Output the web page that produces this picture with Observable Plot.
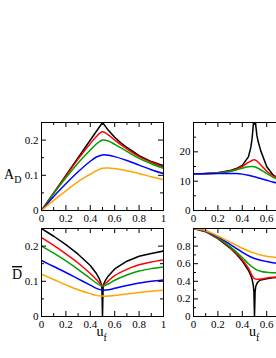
<!DOCTYPE html>
<html><head><meta charset="utf-8">
<script src="https://cdn.jsdelivr.net/npm/d3@7"></script>
<script src="https://cdn.jsdelivr.net/npm/@observablehq/plot@0.6"></script>
<style>
html,body{margin:0;padding:0;background:#fff;overflow:hidden}
#wrap{position:relative;width:276px;height:358px;overflow:hidden;background:#fff}
#wrap > svg{position:absolute}
#wrap svg, #wrap svg text{font-family:"Liberation Serif","Times New Roman",Times,"DejaVu Serif",serif !important}
</style></head><body><div id="wrap"></div>
<script>
// ---- tick values ----
const xMajor = [0, 0.2, 0.4, 0.6, 0.8, 1];
const xMinor = [0.1, 0.3, 0.5, 0.7, 0.9];
const xLabelsRight = [0, 0.2, 0.4, 0.6];
const adYMajor = [0, 0.1, 0.2];
const adYMinor = [0.05, 0.15];
const dYMajor = [0, 0.1, 0.2];
const dYMinor = [0.05, 0.15];
const trYMajor = [0, 10, 20];
const trYMinor = [5, 15, 25];
const brYMajor = [0, 0.2, 0.4, 0.6, 0.8];
const brYMinor = [0.1, 0.3, 0.5, 0.7, 0.9];

// ---- left panels: u grid ----
const uLeft = [0, 0.1, 0.2, 0.3, 0.4, 0.45, 0.5, 0.55, 0.6, 0.7, 0.8, 0.9, 1];

// A_D (top-left)
const adBlackU = [0, 0.5, 0.55, 0.6, 0.65, 0.7, 0.8, 0.9, 1];
const adBlack  = [0, 0.25, 0.227, 0.208, 0.192, 0.179, 0.156, 0.139, 0.127];
const adRed    = [0, 0.050, 0.098, 0.146, 0.190, 0.210, 0.224, 0.214, 0.200, 0.175, 0.153, 0.137, 0.124];
const adGreen  = [0, 0.048, 0.093, 0.135, 0.172, 0.189, 0.200, 0.197, 0.188, 0.168, 0.148, 0.133, 0.120];
const adBlue   = [0, 0.040, 0.076, 0.110, 0.140, 0.152, 0.158, 0.157, 0.153, 0.142, 0.129, 0.116, 0.105];
const adOrange = [0, 0.029, 0.056, 0.082, 0.103, 0.113, 0.120, 0.121, 0.119, 0.113, 0.105, 0.096, 0.088];

// D-bar (bottom-left)
const dBlackU = [0, 0.1, 0.2, 0.3, 0.4, 0.45, 0.47, 0.48, 0.49, 0.495, 0.5, 0.505, 0.51, 0.52, 0.53, 0.55, 0.6, 0.7, 0.8, 0.9, 1];
const dBlack  = [0.25, 0.228, 0.204, 0.177, 0.145, 0.122, 0.110, 0.102, 0.092, 0.084, 0, 0.084, 0.092, 0.100, 0.106, 0.116, 0.135, 0.157, 0.171, 0.179, 0.186];
const dRed    = [0.224, 0.202, 0.178, 0.152, 0.122, 0.105, 0.089, 0.102, 0.116, 0.134, 0.147, 0.155, 0.161];
const dGreen  = [0.200, 0.180, 0.158, 0.134, 0.108, 0.095, 0.086, 0.093, 0.103, 0.118, 0.129, 0.136, 0.141];
const dBlue   = [0.159, 0.142, 0.125, 0.107, 0.089, 0.080, 0.075, 0.076, 0.080, 0.088, 0.095, 0.100, 0.104];
const dOrange = [0.120, 0.105, 0.090, 0.076, 0.065, 0.060, 0.058, 0.058, 0.060, 0.064, 0.068, 0.072, 0.075];

// ---- right panels (visible part) ----
const uRight = [0, 0.1, 0.2, 0.3, 0.35, 0.4, 0.45, 0.5, 0.55, 0.6, 0.65, 0.7];
const uRightBlack = [0, 0.1, 0.2, 0.3, 0.35, 0.4, 0.45, 0.47, 0.48, 0.49, 0.495, 0.5, 0.505, 0.51, 0.52, 0.53, 0.55, 0.6, 0.65, 0.7];

// top-right
const trBlack = [12.5, 12.6, 12.9, 13.6, 14.3, 15.4, 18.3, 21.5, 24.5, 29, 35, NaN, 35, 29, 25.5, 23.5, 20.5, 15.0, 12.2, 10.8];
const trRed   = [12.5, 12.6, 12.9, 13.5, 14.1, 15.0, 16.4, 17.3, 15.6, 13.4, 11.9, 10.8];
const trGreen = [12.5, 12.6, 12.8, 13.3, 13.8, 14.4, 14.9, 14.9, 13.9, 12.6, 11.4, 10.4];
const trBlue  = [12.5, 12.5, 12.6, 12.6, 12.6, 12.4, 12.0, 11.5, 10.9, 10.3, 9.7, 9.2];

// bottom-right
const brBlack  = [1.0, 0.964, 0.884, 0.778, 0.71, 0.63, 0.525, 0.465, 0.425, 0.355, 0.28, 0, 0.28, 0.34, 0.375, 0.395, 0.415, 0.43, 0.44, 0.447];
const brRed    = [1.0, 0.966, 0.888, 0.785, 0.72, 0.645, 0.55, 0.43, 0.425, 0.437, 0.445, 0.45];
const brGreen  = [1.0, 0.968, 0.893, 0.795, 0.735, 0.67, 0.60, 0.545, 0.515, 0.502, 0.498, 0.497];
const brBlue   = [1.0, 0.972, 0.905, 0.82, 0.775, 0.73, 0.69, 0.66, 0.64, 0.625, 0.612, 0.603];
const brOrange = [1.0, 0.975, 0.915, 0.845, 0.81, 0.775, 0.745, 0.72, 0.70, 0.685, 0.675, 0.668];

const colors = {black: "#000000", red: "#ff0000", green: "#00a000", blue: "#0000ff", orange: "#ffa500"};
const FONT = "Liberation Serif, Times New Roman, Times, DejaVu Serif, serif";

const FW = 122, FH = 88, ML = 30, MR = 2, MT = 2, MB = 20;

function pts(us, vs) { return us.map((u, i) => ({u, v: vs[i]})); }

function panel({left, top, yDomain, yMajor, yMinor, uCol, series, uBlk, black, xLabels}) {
  const fmt = d => String(d);
  const marks = [];
  marks.push(Plot.line(pts(uBlk, black), {x: "u", y: "v", stroke: colors.black, strokeWidth: 1.5, curve: "linear", clip: true}));
  for (const [name, vals] of series) {
    marks.push(Plot.line(pts(uCol, vals), {x: "u", y: "v", stroke: colors[name], strokeWidth: 1.5, curve: "catmull-rom", clip: true}));
  }
  marks.push(
    Plot.ruleX(xMinor, {insetTop: FH - 3, stroke: "black"}),
    Plot.ruleX(xMajor, {insetTop: FH - 5, stroke: "black"}),
    Plot.ruleX(xMinor, {insetBottom: FH - 3, stroke: "black"}),
    Plot.ruleX(xMajor, {insetBottom: FH - 5, stroke: "black"}),
    Plot.ruleY(yMinor, {insetRight: FW - 3, stroke: "black"}),
    Plot.ruleY(yMajor, {insetRight: FW - 5, stroke: "black"}),
    Plot.ruleY(yMinor, {insetLeft: FW - 3, stroke: "black"}),
    Plot.ruleY(yMajor, {insetLeft: FW - 5, stroke: "black"}),
    Plot.frame({stroke: "black", strokeWidth: 1}),
    Plot.axisX(xLabels, {tickSize: 0, tickPadding: 4, tickFormat: fmt, label: null, fontSize: 11}),
    Plot.axisY(yMajor, {tickSize: 0, tickPadding: 3, tickFormat: fmt, label: null, fontSize: 11})
  );
  const svg = Plot.plot({
    width: FW + ML + MR, height: FH + MT + MB,
    marginLeft: ML, marginRight: MR, marginTop: MT, marginBottom: MB,
    x: {domain: [0, 1]},
    y: {domain: yDomain},
    style: {fontFamily: FONT, fontSize: "11px", color: "black", background: "transparent", overflow: "visible"},
    marks
  });
  svg.style.left = (left - ML) + "px";
  svg.style.top = (top - MT) + "px";
  document.getElementById("wrap").appendChild(svg);
}

const LX = 41, RX = 193, TY = 122, BY = 228;

panel({left: LX, top: TY, yDomain: [0, 0.25], yMajor: adYMajor, yMinor: adYMinor, xLabels: xMajor,
  uCol: uLeft, series: [["red", adRed], ["green", adGreen], ["blue", adBlue], ["orange", adOrange]],
  uBlk: adBlackU, black: adBlack});
panel({left: LX, top: BY, yDomain: [0, 0.25], yMajor: dYMajor, yMinor: dYMinor, xLabels: xMajor,
  uCol: uLeft, series: [["red", dRed], ["green", dGreen], ["blue", dBlue], ["orange", dOrange]],
  uBlk: dBlackU, black: dBlack});
panel({left: RX, top: TY, yDomain: [0, 30], yMajor: trYMajor, yMinor: trYMinor, xLabels: xLabelsRight,
  uCol: uRight, series: [["red", trRed], ["green", trGreen], ["blue", trBlue]],
  uBlk: uRightBlack, black: trBlack});
panel({left: RX, top: BY, yDomain: [0, 1], yMajor: brYMajor, yMinor: brYMinor, xLabels: xLabelsRight,
  uCol: uRight, series: [["red", brRed], ["green", brGreen], ["blue", brBlue], ["orange", brOrange]],
  uBlk: uRightBlack, black: brBlack});

// ---- axis titles (real text) ----
const NS = "http://www.w3.org/2000/svg";
const ov = document.createElementNS(NS, "svg");
ov.setAttribute("width", 276); ov.setAttribute("height", 358);
ov.style.left = "0px"; ov.style.top = "0px"; ov.style.pointerEvents = "none";
function label(x, y, main, sub, size, subSize, subDy, overline) {
  const t = document.createElementNS(NS, "text");
  t.setAttribute("x", x); t.setAttribute("y", y); t.setAttribute("font-size", size);
  const a = document.createElementNS(NS, "tspan");
  a.textContent = main;
  if (overline) a.setAttribute("text-decoration", "overline");
  t.appendChild(a);
  if (sub) {
    const s = document.createElementNS(NS, "tspan");
    s.textContent = sub; s.setAttribute("font-size", subSize); s.setAttribute("dy", subDy);
    t.appendChild(s);
  }
  ov.appendChild(t);
}
label(4, 179, "A", "D", 14, 10, 4, false);
label(12, 279, "D", null, 14, 0, 0, true);
label(96.5, 336, "u", "f", 14, 10, 5, false);
label(249, 336, "u", "f", 14, 10, 5, false);
document.getElementById("wrap").appendChild(ov);
</script></body></html>
